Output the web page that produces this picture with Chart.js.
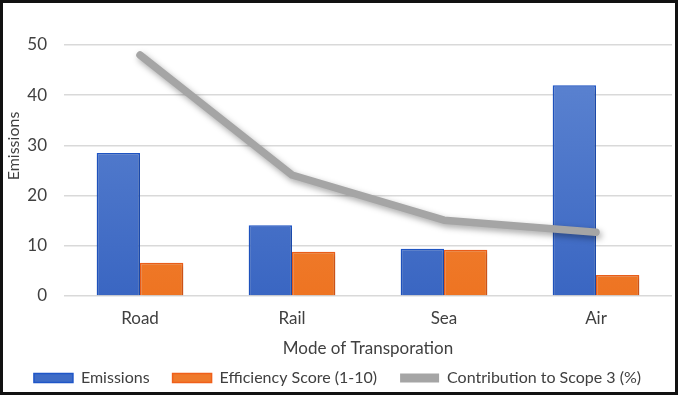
<!DOCTYPE html>
<html>
<head>
<meta charset="utf-8">
<script src="https://cdn.jsdelivr.net/npm/chart.js@4/dist/chart.umd.min.js"></script>
<style>
  html, body { margin: 0; padding: 0; background: #fff; }
  #wrap {
    width: 678px; height: 395px; box-sizing: border-box;
    border: 3px solid #111; background: #fff; position: relative;
  }
  #chart { display: block; }
</style>
</head>
<body>
<div id="wrap"><canvas id="chart" width="672" height="389"></canvas></div>
<script>
// Data
const modes = ['Road', 'Rail', 'Sea', 'Air'];
const emissions = [28.5, 14.1, 9.4, 42.0];
const efficiency = [6.6, 8.8, 9.2, 4.2];
const scope3 = [48.0, 24.1, 15.1, 12.7];
const yTicks = [0, 10, 20, 30, 40, 50];

const FONT = 'Lato, "Open Sans", sans-serif';
const TEXT = '#404040';

// Gradient fills for the bars
function barGradient(ctx, top, bottom) {
    const area = ctx.chart.chartArea;
    if (!area) return top;
    const g = ctx.chart.ctx.createLinearGradient(0, area.top, 0, area.bottom);
    g.addColorStop(0, top);
    g.addColorStop(1, bottom);
    return g;
}

// Soft shadow under every dataset, like the office chart
const shadowPlugin = {
    id: 'shadow',
    beforeDatasetDraw(chart, args) {
        const c = chart.ctx;
        c.save();
        const isLine = args.meta.type === 'line';
        c.shadowColor = isLine ? 'rgba(0,0,0,0.35)' : 'rgba(0,0,0,0.25)';
        c.shadowBlur = isLine ? 6 : 4;
        c.shadowOffsetX = isLine ? 2 : 1;
        c.shadowOffsetY = isLine ? 3 : 2;
    },
    afterDatasetDraw(chart) {
        chart.ctx.restore();
    }
};

// Rotated y axis title, sitting a bit above the middle as in the original
const yTitlePlugin = {
    id: 'yTitle',
    afterDraw(chart) {
        const c = chart.ctx;
        c.save();
        c.translate(11, 143);
        c.rotate(-Math.PI / 2);
        c.font = '16px ' + FONT;
        c.fillStyle = TEXT;
        c.textAlign = 'center';
        c.textBaseline = 'middle';
        c.fillText('Emissions', 0, 0);
        c.restore();
    }
};

new Chart(document.getElementById('chart'), {
    type: 'bar',
    data: {
        labels: modes,
        datasets: [
            {
                type: 'line',
                label: 'Contribution to Scope 3 (%)',
                data: scope3,
                borderColor: '#a5a5a5',
                backgroundColor: '#a5a5a5',
                borderWidth: 7.5,
                borderCapStyle: 'round',
                borderJoinStyle: 'round',
                pointRadius: 0,
                tension: 0,
                order: 0
            },
            {
                label: 'Emissions',
                data: emissions,
                backgroundColor: ctx => barGradient(ctx, '#5f86d2', '#3a66c2'),
                borderColor: '#1f56c8',
                borderWidth: 1.5,
                order: 1
            },
            {
                label: 'Efficiency Score (1-10)',
                data: efficiency,
                backgroundColor: ctx => barGradient(ctx, '#f28c44', '#ee7422'),
                borderColor: '#f0601a',
                borderWidth: 1.5,
                order: 1
            }
        ]
    },
    options: {
        responsive: false,
        animation: false,
        layout: { padding: { top: 42, right: 3, left: 0, bottom: -4 } },
        datasets: {
            bar: { categoryPercentage: 0.57, barPercentage: 1 }
        },
        scales: {
            x: {
                grid: { display: false, drawTicks: false },
                border: { display: false },
                ticks: { color: TEXT, font: { family: FONT, size: 17 }, padding: 12 },
                title: {
                    display: true,
                    text: 'Mode of Transporation',
                    color: TEXT,
                    font: { family: FONT, size: 17 },
                    padding: { top: 0, bottom: -12 }
                },
                afterFit(scale) { scale.height = 51; }
            },
            y: {
                min: 0,
                max: 50,
                afterBuildTicks(scale) { scale.ticks = yTicks.map(v => ({ value: v })); },
                grid: { color: '#d9d9d9', lineWidth: 1.5, drawTicks: false },
                border: { display: false },
                ticks: { color: TEXT, font: { family: FONT, size: 17 }, padding: 17 },
                afterFit(scale) { scale.width = 61; }
            }
        },
        plugins: {
            legend: {
                position: 'bottom',
                labels: {
                    color: TEXT,
                    font: { family: FONT, size: 16 },
                    boxWidth: 39,
                    boxHeight: 9,
                    padding: 23,
                    generateLabels(chart) {
                        const items = Chart.defaults.plugins.legend.labels.generateLabels(chart);
                        const fills = ['#a5a5a5', '#3f6cc6', '#ef7a2c'];
                        const strokes = ['#a5a5a5', '#1f56c8', '#f0601a'];
                        items.forEach(it => {
                            it.fillStyle = fills[it.datasetIndex];
                            it.strokeStyle = strokes[it.datasetIndex];
                            it.lineWidth = it.datasetIndex === 0 ? 0 : 1.5;
                        });
                        // show bars first, line last
                        return [items[1], items[2], items[0]];
                    }
                }
            },
            tooltip: { enabled: false }
        }
    },
    plugins: [shadowPlugin, yTitlePlugin]
});
</script>
</body>
</html>
